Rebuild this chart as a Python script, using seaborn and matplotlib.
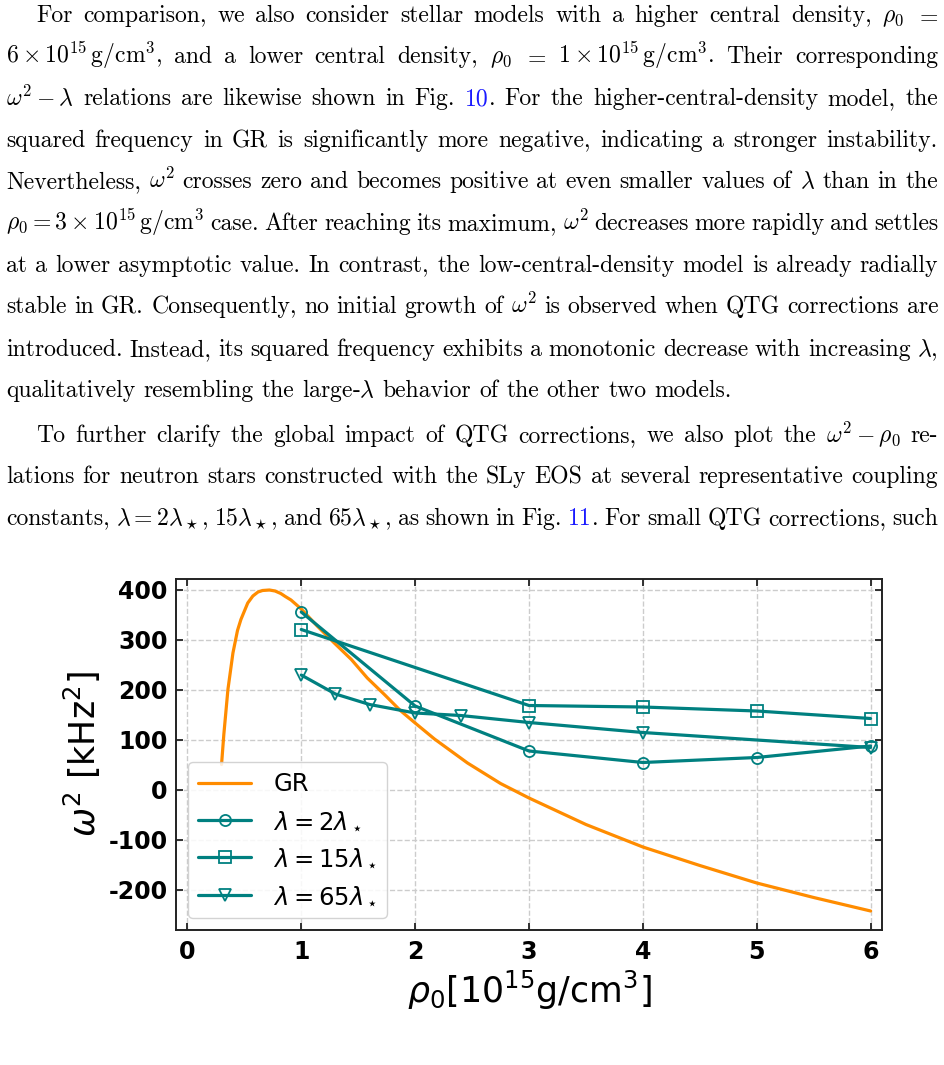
import numpy as np
import pandas as pd
import matplotlib
matplotlib.use('Agg')
import matplotlib.pyplot as plt
import seaborn as sns

# GR curve
gr_rho = [0.30, 0.32, 0.356, 0.40, 0.44, 0.47, 0.53, 0.575, 0.62, 0.66, 0.72, 0.77, 0.82,
          0.86, 0.91, 1.0, 1.14, 1.29, 1.44, 1.58, 1.73, 1.87, 2.0, 2.17, 2.46, 2.75, 3.0,
          3.5, 4.0, 4.5, 5.0, 5.5, 6.0]
gr_w2 = [50, 110, 200, 273, 318, 340, 373, 387, 395, 398, 399, 397, 392,
         386, 379, 361, 327, 293, 260, 223, 190, 158, 133, 101, 53, 12, -17,
         -70, -115, -152, -187, -216, -243]

# QTG models
lam2_rho = [1, 2, 3, 4, 5, 6]
lam2_w2 = [355, 167, 77, 54, 64, 87]
lam15_rho = [1, 3, 4, 5, 6]
lam15_w2 = [320, 168, 165, 157, 142]
lam65_rho = [1, 1.3, 1.6, 2, 2.4, 3, 4, 6]
lam65_w2 = [229, 191, 170, 153, 148, 134, 114, 84]

labels = ['GR', r'$\lambda=2\lambda_\star$', r'$\lambda=15\lambda_\star$', r'$\lambda=65\lambda_\star$']
xticks = [0, 1, 2, 3, 4, 5, 6]
yticks = [-200, -100, 0, 100, 200, 300, 400]

# paragraph text around the figure (@...@ marks the blue links)
para_lines = [
    r'For comparison, we also consider stellar models with a higher central density, $\rho_0$ $=$',
    r'$6\times10^{15}\,\mathrm{g/cm^3}$, and a lower central density, $\rho_0$ $=$ $1\times10^{15}\,\mathrm{g/cm^3}$. Their corresponding',
    r'$\omega^2-\lambda$ relations are likewise shown in Fig. @10@. For the higher-central-density model, the',
    r'squared frequency in GR is significantly more negative, indicating a stronger instability.',
    r'Nevertheless, $\omega^2$ crosses zero and becomes positive at even smaller values of $\lambda$ than in the',
    r'$\rho_0=3\times10^{15}\,\mathrm{g/cm^3}$ case. After reaching its maximum, $\omega^2$ decreases more rapidly and settles',
    r'at a lower asymptotic value. In contrast, the low-central-density model is already radially',
    r'stable in GR. Consequently, no initial growth of $\omega^2$ is observed when QTG corrections are',
    r'introduced. Instead, its squared frequency exhibits a monotonic decrease with increasing $\lambda$,',
    r'qualitatively resembling the large-$\lambda$ behavior of the other two models.',
    r'To further clarify the global impact of QTG corrections, we also plot the $\omega^2-\rho_0$ re-',
    r'lations for neutron stars constructed with the SLy EOS at several representative coupling',
    r'constants, $\lambda=2\lambda_\star$, $15\lambda_\star$, and $65\lambda_\star$, as shown in Fig. @11@. For small QTG corrections, such',
]
para_base = [22, 63, 105, 147, 188, 230, 272, 313, 356, 397, 442, 483, 525]
para_indent = {0, 10}
para_ragged = {9}

W, H = 945, 1065
fig = plt.figure(figsize=(W / 100, H / 100), dpi=100)
renderer = fig.canvas.get_renderer()
tfont = dict(family='cmr10', math_fontfamily='cm')


def split_words(line):
    # split on spaces that are not inside $...$
    words, cur, inmath = [], '', False
    for ch in line:
        if ch == '$':
            inmath = not inmath
        if ch == ' ' and not inmath:
            if cur:
                words.append(cur)
            cur = ''
        else:
            cur += ch
    if cur:
        words.append(cur)
    return words


def pieces(word):
    parts = word.split('@')
    return [(p, '#1a1aff' if i % 2 else 'black') for i, p in enumerate(parts) if p]


def width(s, size):
    t = fig.text(0, 0, s, fontsize=size, **tfont)
    w = t.get_window_extent(renderer).width
    t.remove()
    return w


def word_width(word, size):
    return sum(width(p, size) for p, c in pieces(word))


left, right = 6, 938
# pick a font size so that the justified lines need about normal spacing
ratios = []
for i, line in enumerate(para_lines):
    if i in para_ragged:
        continue
    avail = right - left - (30 if i in para_indent else 0)
    ws = split_words(line)
    nat = sum(word_width(w, 10) for w in ws) + (len(ws) - 1) * 0.333 * 10 * 100 / 72
    ratios.append(avail / nat)
fsize = 10 * float(np.median(ratios))

for i, line in enumerate(para_lines):
    x0 = left + (30 if i in para_indent else 0)
    ws = split_words(line)
    widths = [word_width(w, fsize) for w in ws]
    if i in para_ragged:
        gap = 0.333 * fsize * 100 / 72
    else:
        gap = (right - x0 - sum(widths)) / (len(ws) - 1)
    x = x0
    y = 1 - para_base[i] / H
    for w, wd in zip(ws, widths):
        xx = x
        for p, c in pieces(w):
            fig.text(xx / W, y, p, fontsize=fsize, color=c, va='baseline', ha='left', **tfont)
            xx += width(p, fsize)
        x += wd + gap

# chart
sns.set_style('ticks')
plt.rcParams['font.family'] = ['DejaVu Sans']
plt.rcParams['axes.unicode_minus'] = False
plt.rcParams['mathtext.fontset'] = 'dejavusans'

ax = fig.add_axes([176 / W, (H - 930) / H, (882 - 176) / W, (930 - 579) / H])
teal = '#008080'
orange = '#ff8c00'
gr = pd.DataFrame({'rho': gr_rho, 'w2': gr_w2})
sns.lineplot(data=gr, x='rho', y='w2', color=orange, lw=2.3, label=labels[0], ax=ax, zorder=2)
for rho, w2, mk, lab in [(lam2_rho, lam2_w2, 'o', labels[1]),
                         (lam15_rho, lam15_w2, 's', labels[2]),
                         (lam65_rho, lam65_w2, 'v', labels[3])]:
    df = pd.DataFrame({'rho': rho, 'w2': w2})
    sns.lineplot(data=df, x='rho', y='w2', color=teal, lw=2.3, marker=mk, markersize=8,
                 markerfacecolor='none', markeredgecolor=teal, markeredgewidth=1.3,
                 label=lab, ax=ax, zorder=3)

ax.set_xlim(-0.1, 6.1)
ax.set_ylim(-281, 421)
ax.set_xticks(xticks)
ax.set_yticks(yticks)
ax.set_xticklabels([str(v) for v in xticks], fontweight='bold', fontsize=17, color='black')
ax.set_yticklabels([str(v) for v in yticks], fontweight='bold', fontsize=17, color='black')
ax.tick_params(direction='in', top=True, right=True, length=5, width=1.3, color='#222222')
ax.tick_params(axis='x', pad=7)
ax.tick_params(axis='y', pad=6)
ax.grid(True, linestyle='--', color='#cccccc', linewidth=1)
for s in ax.spines.values():
    s.set_linewidth(1.4)
    s.set_color('#222222')
ax.set_xlabel(r'$\rho_0[10^{15}$g/cm$^3]$', fontsize=25, labelpad=4, color='black')
ax.set_ylabel(r'$\omega^2$ [kHz$^2$]', fontsize=25, labelpad=4, color='black')
leg = ax.legend(loc='lower left', fontsize=17.5, handlelength=2.2, handletextpad=0.9,
                labelspacing=0.55, borderaxespad=0.5, framealpha=0.85, edgecolor='#cccccc')
for t in leg.get_texts():
    t.set_color('black')

fig.savefig('out.png', dpi=100)
